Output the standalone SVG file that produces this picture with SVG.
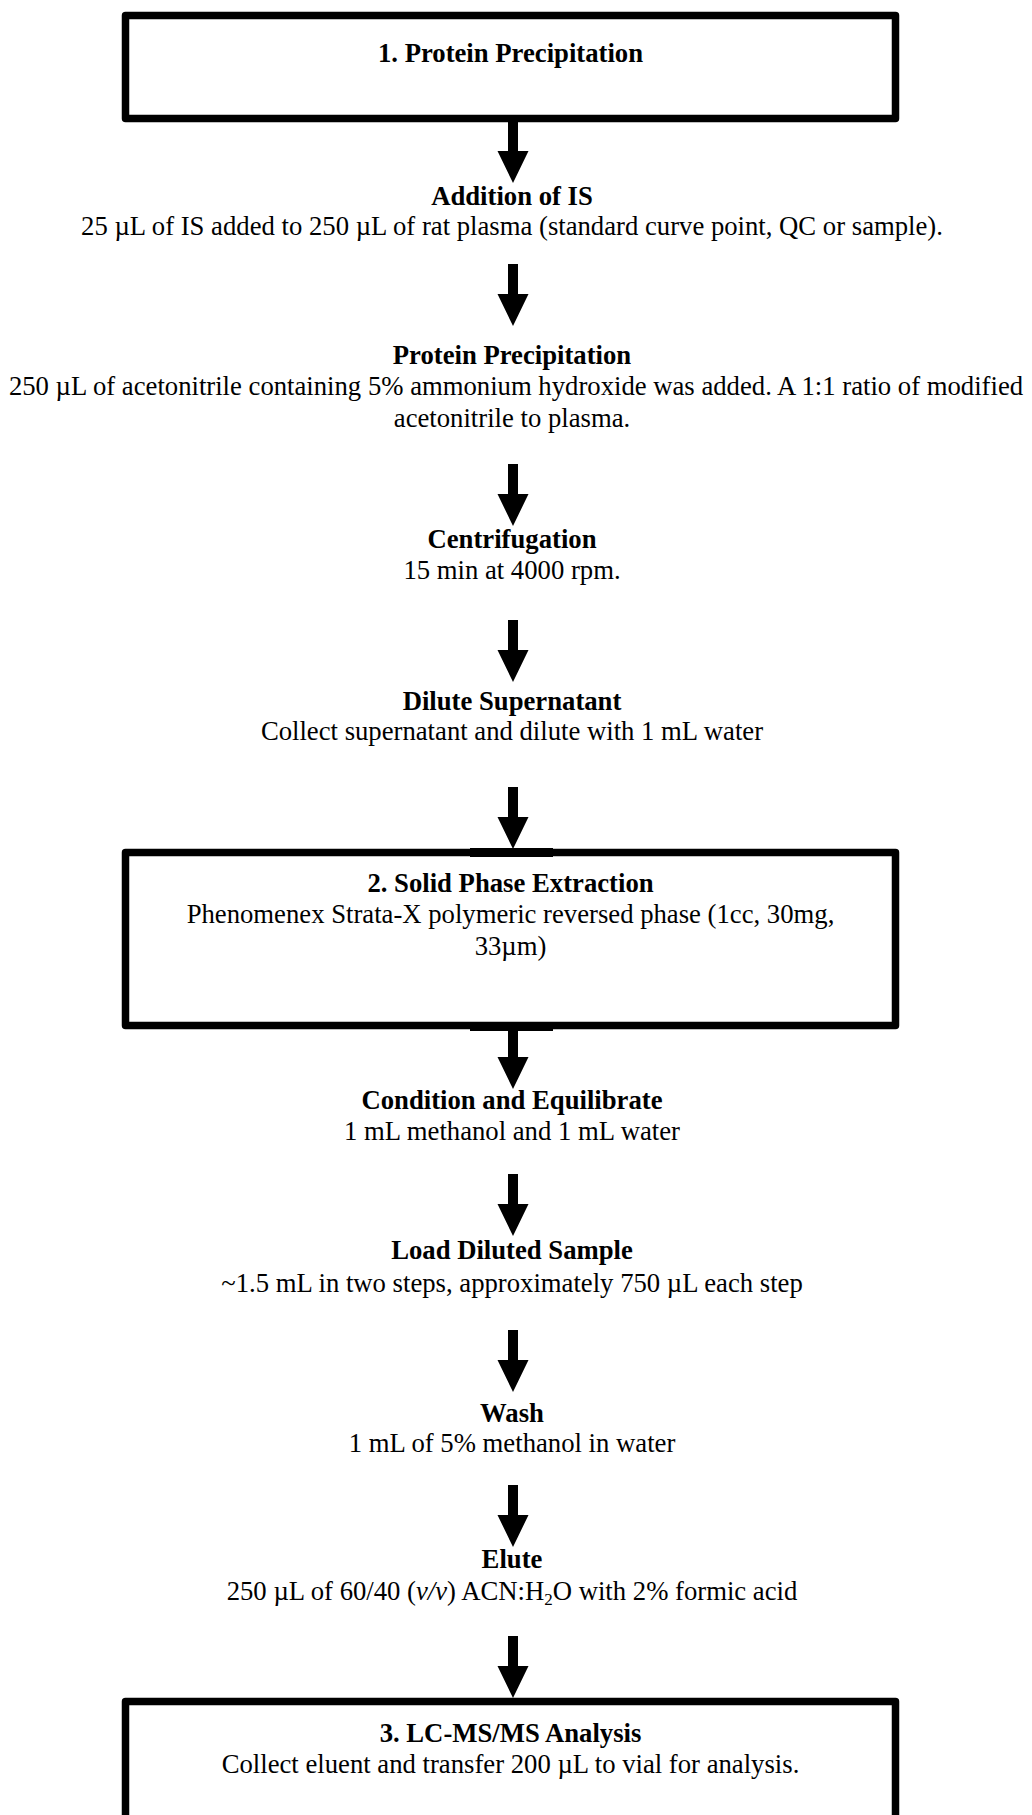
<svg xmlns="http://www.w3.org/2000/svg" width="1032" height="1815" viewBox="0 0 1032 1815">
<style>
  text { font-family: "Liberation Serif", "Times New Roman", serif; font-size: 26.7px; fill: #000; text-anchor: middle; }
  .b { font-weight: bold; }
  .box { fill: #fff; stroke: #000; stroke-width: 7.5; stroke-linejoin: round; }
  .arrow { fill: #000; stroke: none; }
</style>
<defs>
  <path id="arr" d="M-5,0 L5,0 L5,30 L15.5,30 L0,62 L-15.5,30 L-5,30 Z"/>
</defs>
<rect width="1032" height="1815" fill="#fff"/>

<g id="box1">
  <rect class="box" x="125.5" y="15.5" width="770" height="103"/>
  <text class="b" x="510.5" y="62">1. Protein Precipitation</text>
</g>

<g id="box2">
  <rect class="box" x="125.5" y="852.5" width="770" height="173"/>
  <text class="b" x="510.5" y="892">2. Solid Phase Extraction</text>
  <text x="510.5" y="923">Phenomenex Strata-X polymeric reversed phase (1cc, 30mg,</text>
  <text x="510.5" y="955">33µm)</text>
</g>

<g id="box3">
  <rect class="box" x="125.5" y="1701.5" width="770" height="200"/>
  <text class="b" x="510.5" y="1742">3. LC-MS/MS Analysis</text>
  <text x="510.5" y="1773">Collect eluent and transfer 200 µL to vial for analysis.</text>
</g>

<g id="step-addition">
  <text class="b" x="512" y="205">Addition of IS</text>
  <text x="512" y="235">25 µL of IS added to 250 µL of rat plasma (standard curve point, QC or sample).</text>
</g>

<g id="step-precipitation">
  <text class="b" x="512" y="364">Protein Precipitation</text>
  <text x="516" y="395">250 µL of acetonitrile containing 5% ammonium hydroxide was added. A 1:1 ratio of modified</text>
  <text x="512" y="427">acetonitrile to plasma.</text>
</g>

<g id="step-centrifugation">
  <text class="b" x="512" y="548">Centrifugation</text>
  <text x="512" y="579">15 min at 4000 rpm.</text>
</g>

<g id="step-dilute">
  <text class="b" x="512" y="710">Dilute Supernatant</text>
  <text x="512" y="740">Collect supernatant and dilute with 1 mL water</text>
</g>

<g id="step-condition">
  <text class="b" x="512" y="1109">Condition and Equilibrate</text>
  <text x="512" y="1140">1 mL methanol and 1 mL water</text>
</g>

<g id="step-load">
  <text class="b" x="512" y="1259">Load Diluted Sample</text>
  <text x="512" y="1292">~1.5 mL in two steps, approximately 750 µL each step</text>
</g>

<g id="step-wash">
  <text class="b" x="512" y="1422">Wash</text>
  <text x="512" y="1452">1 mL of 5% methanol in water</text>
</g>

<g id="step-elute">
  <text class="b" x="512" y="1568">Elute</text>
  <text x="512" y="1600">250 µL of 60/40 (<tspan font-style="italic">v/v</tspan>) ACN:H<tspan font-size="17" dy="5">2</tspan><tspan dy="-5">O with 2% formic acid</tspan></text>
</g>

<g id="connectors" class="arrow">
  <use href="#arr" transform="translate(513,121)"/>
  <use href="#arr" transform="translate(513,264)"/>
  <use href="#arr" transform="translate(513,464)"/>
  <use href="#arr" transform="translate(513,620)"/>
  <use href="#arr" transform="translate(513,787)"/>
  <rect x="470" y="848" width="83" height="9"/>
  <rect x="470" y="1022" width="83" height="9"/>
  <use href="#arr" transform="translate(513,1027)"/>
  <use href="#arr" transform="translate(513,1174)"/>
  <use href="#arr" transform="translate(513,1330)"/>
  <use href="#arr" transform="translate(513,1485)"/>
  <use href="#arr" transform="translate(513,1636)"/>
</g>
</svg>
